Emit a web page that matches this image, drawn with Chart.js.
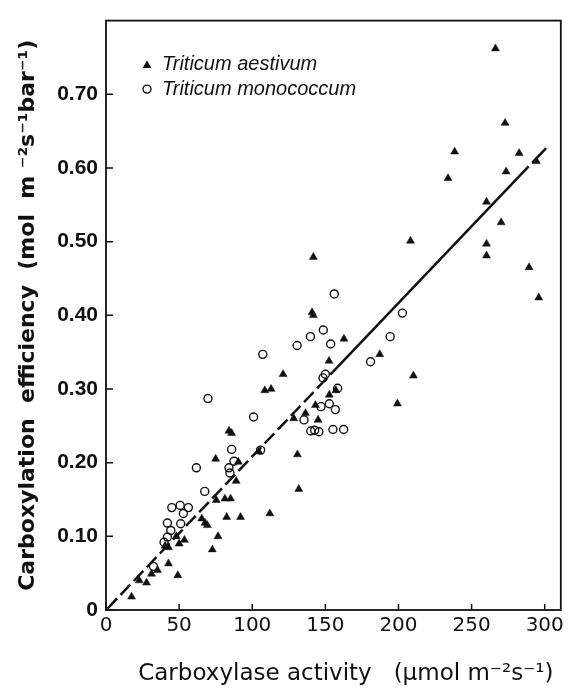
<!DOCTYPE html>
<html>
<head>
<meta charset="utf-8">
<title>Carboxylation efficiency vs carboxylase activity</title>
<script src="https://cdn.jsdelivr.net/npm/chart.js@4.4.1/dist/chart.umd.min.js"></script>
<style>
  html, body { margin: 0; padding: 0; background: #fff; }
  #wrap { width: 568px; height: 689px; }
</style>
</head>
<body>
<div id="wrap"><canvas id="chart" width="568" height="689"></canvas></div>
<script>
// axis tick labels
const xTickLabels = ["0", "50", "100", "150", "200", "250", "300"];
const yTickLabels = ["0", "0.10", "0.20", "0.30", "0.40", "0.50", "0.60", "0.70"];
const seriesNames = ["Triticum aestivum", "Triticum monococcum"];

// Triticum aestivum (filled triangles)
const aestivumX = [
  17.5, 22.7, 27.7, 31.1, 35.2, 42.7, 49.1, 40.4, 42.7, 48.1, 50.0, 53.6, 72.7, 76.6, 65.5, 67.7,
  69.3, 82.5, 92.0, 75.4, 81.3, 85.2, 89.0, 75.0, 84.1, 85.9, 90.5, 112.0, 131.8, 130.9, 104.5,
  141.8, 140.9, 141.8, 162.7, 152.5, 121.1, 108.6, 112.9, 157.2, 152.7, 143.2, 136.4, 128.4, 145.0,
  187.2, 210.2, 199.3,
  266.3, 272.9, 238.4, 282.5, 294.3, 273.6, 233.9, 260.2, 270.2, 208.2, 260.2, 260.2, 289.3, 295.9
];
const aestivumY = [
  0.018, 0.040, 0.037, 0.049, 0.054, 0.063, 0.047, 0.087, 0.085, 0.100, 0.090, 0.095, 0.082, 0.100, 0.124, 0.118,
  0.115, 0.126, 0.126, 0.149, 0.151, 0.151, 0.175, 0.205, 0.243, 0.240, 0.201, 0.131, 0.164, 0.211, 0.215,
  0.479, 0.404, 0.400, 0.368, 0.338, 0.320, 0.298, 0.300, 0.298, 0.292, 0.278, 0.267, 0.260, 0.258,
  0.347, 0.318, 0.280,
  0.762, 0.661, 0.622, 0.620, 0.609, 0.595, 0.586, 0.554, 0.526, 0.501, 0.497, 0.481, 0.465, 0.424
];

// Triticum monococcum (open circles)
const monococcumX = [
  32.5, 39.7, 42.0, 44.3, 42.0, 51.1, 45.0, 50.7, 56.3, 52.9, 61.8, 67.5, 85.9, 87.5, 84.1, 84.7,
  105.7, 69.7, 100.9, 107.2, 130.7, 139.8, 148.6, 153.6, 156.1, 150.0, 148.4, 158.4, 152.7, 147.0,
  156.8, 135.4, 140.0, 142.7, 145.6, 155.2, 162.5, 180.9, 194.3, 202.7
];
const monococcumY = [
  0.059, 0.092, 0.099, 0.108, 0.118, 0.117, 0.139, 0.142, 0.139, 0.131, 0.193, 0.161, 0.218, 0.202, 0.193, 0.186,
  0.217, 0.287, 0.262, 0.347, 0.359, 0.371, 0.380, 0.361, 0.429, 0.320, 0.315, 0.301, 0.280, 0.276,
  0.272, 0.258, 0.243, 0.244, 0.242, 0.245, 0.245, 0.337, 0.371, 0.403
];

// regression line (dashed low end, solid middle, short dash at top)
const fitX = [1, 155, 289, 301];
const fitY = [0.002, 0.323, 0.602, 0.627];

const toPoints = (xs, ys) => xs.map((x, i) => ({ x, y: ys[i] }));

const drawTriangle = (ctx, x, y, r) => {
  ctx.beginPath();
  for (let k = 0; k < 3; k++) {
    const a = (k * 2 * Math.PI) / 3;
    const px = x + Math.sin(a) * r;
    const py = y - Math.cos(a) * r;
    if (k === 0) ctx.moveTo(px, py);
    else ctx.lineTo(px, py);
  }
  ctx.closePath();
  ctx.fill();
};

// frame, inward tick marks and the in-plot legend
const framePlugin = {
  id: "frame",
  afterDraw(chart) {
    const { ctx, chartArea: a, scales } = chart;
    ctx.save();
    ctx.strokeStyle = "#111";
    ctx.lineWidth = 1.8;
    ctx.strokeRect(a.left, a.top, a.right - a.left, a.bottom - a.top);

    ctx.lineWidth = 1.5;
    ctx.beginPath();
    scales.x.ticks.forEach((t) => {
      const px = scales.x.getPixelForValue(t.value);
      ctx.moveTo(px, a.bottom);
      ctx.lineTo(px, a.bottom - 6);
    });
    scales.y.ticks.forEach((t) => {
      const py = scales.y.getPixelForValue(t.value);
      ctx.moveTo(a.left, py);
      ctx.lineTo(a.left + 7, py);
    });
    ctx.stroke();

    // legend
    const lx = a.left + 41;
    const ly = a.top + 44;
    ctx.fillStyle = "#111";
    drawTriangle(ctx, lx, ly + 1, 5);
    ctx.beginPath();
    ctx.lineWidth = 1.4;
    ctx.arc(lx, ly + 24.5, 4, 0, Math.PI * 2);
    ctx.stroke();
    ctx.font = "italic 20px 'Liberation Sans', Arial, sans-serif";
    ctx.textBaseline = "middle";
    ctx.textAlign = "left";
    ctx.fillText(seriesNames[0], lx + 15, ly);
    ctx.fillText(seriesNames[1], lx + 15, ly + 24.5);
    ctx.restore();
  },
};

const ctx = document.getElementById("chart");
new Chart(ctx, {
  type: "scatter",
  data: {
    datasets: [
      {
        label: seriesNames[0],
        data: toPoints(aestivumX, aestivumY),
        pointStyle: "triangle",
        pointRadius: 4.6,
        backgroundColor: "#111",
        borderColor: "#111",
        borderWidth: 0.5,
      },
      {
        label: seriesNames[1],
        data: toPoints(monococcumX, monococcumY),
        pointStyle: "circle",
        pointRadius: 4,
        backgroundColor: "rgba(0,0,0,0)",
        borderColor: "#111",
        borderWidth: 1.4,
      },
      {
        label: "fit",
        type: "line",
        data: toPoints(fitX, fitY),
        showLine: true,
        pointRadius: 0,
        borderColor: "#111",
        borderWidth: 2.5,
        fill: false,
        segment: {
          borderDash: (c) =>
            c.p0DataIndex === 0 ? [14, 5] : c.p0DataIndex === 2 ? [0, 5, 40] : undefined,
        },
      },
    ],
  },
  options: {
    responsive: false,
    animation: false,
    devicePixelRatio: 1,
    events: [],
    layout: { padding: { top: 13, right: 5, left: 0, bottom: 0 } },
    plugins: {
      legend: { display: false },
      tooltip: { enabled: false },
    },
    scales: {
      x: {
        type: "linear",
        min: 0,
        max: 311,
        grid: { display: false, drawTicks: false },
        border: { display: false },
        afterFit: (s) => { s.height = 79; },
        afterBuildTicks: (s) => { s.ticks = xTickLabels.map((l) => ({ value: Number(l) })); },
        ticks: {
          padding: 4,
          color: "#111",
          maxRotation: 0,
          autoSkip: false,
          font: { family: "'DejaVu Sans', sans-serif", size: 20 },
          callback: (v, i) => xTickLabels[i],
        },
        title: {
          display: true,
          text: "Carboxylase activity   (µmol m⁻²s⁻¹) ",
          align: "end",
          color: "#111",
          padding: { top: 0, bottom: 1 },
          font: { family: "'DejaVu Sans', sans-serif", size: 23 },
        },
      },
      y: {
        type: "linear",
        min: 0,
        max: 0.8,
        grid: { display: false, drawTicks: false },
        border: { display: false },
        afterFit: (s) => { s.width = 106; },
        afterBuildTicks: (s) => { s.ticks = yTickLabels.map((l) => ({ value: Number(l) })); },
        ticks: {
          padding: 8,
          color: "#111",
          autoSkip: false,
          font: { family: "'Liberation Sans', Arial, sans-serif", size: 21, weight: "bold" },
          callback: (v, i) => yTickLabels[i],
        },
        title: {
          display: true,
          text: "Carboxylation  efficiency  (mol  m ⁻²s⁻¹bar⁻¹)",
          color: "#111",
          padding: { top: 15, bottom: 0 },
          font: { family: "'DejaVu Sans', sans-serif", size: 22, weight: "bold" },
        },
      },
    },
  },
  plugins: [framePlugin],
});
</script>
</body>
</html>
